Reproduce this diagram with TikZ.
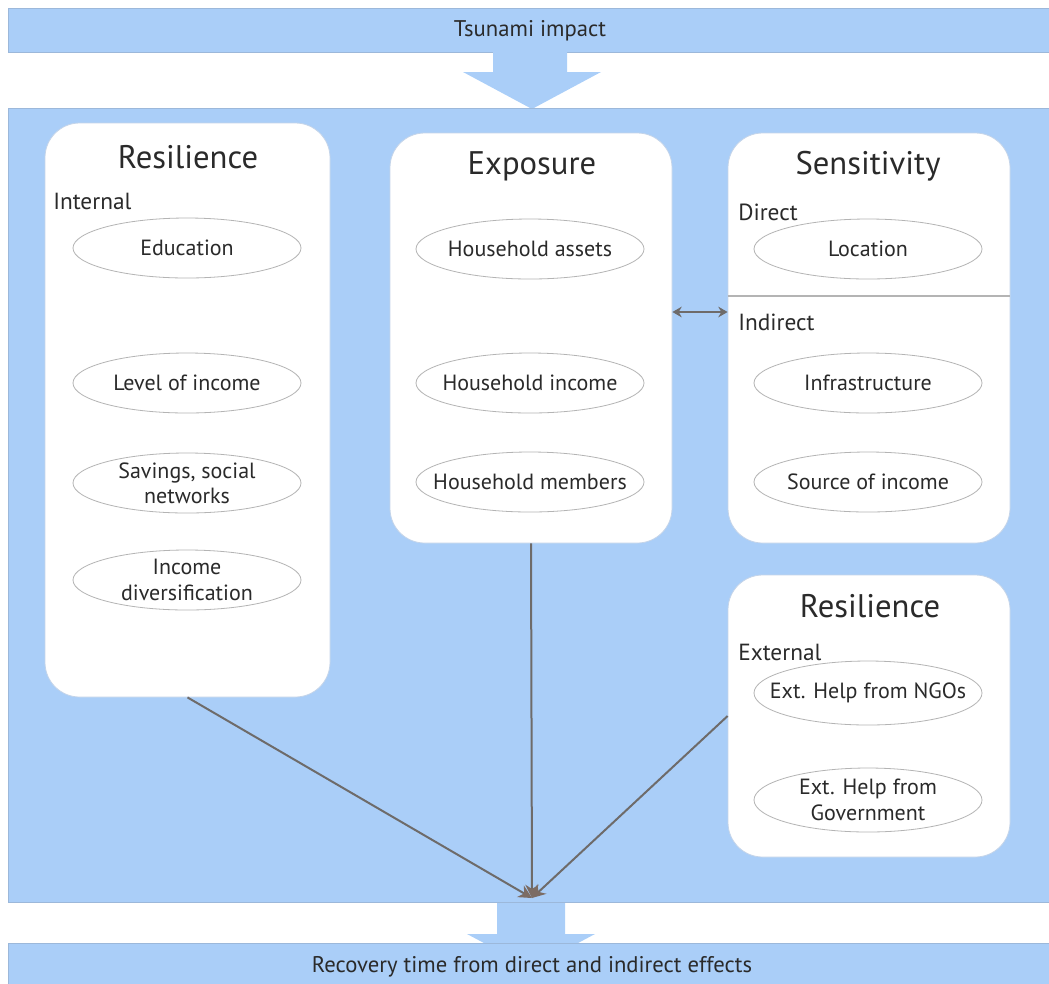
\documentclass[tikz,border=0pt]{standalone}
\usepackage{fontspec}
\setmainfont{PT Sans}
\usetikzlibrary{shapes.geometric,arrows.meta,calc}
\definecolor{bandblue}{HTML}{AACEF8}
\definecolor{bandedge}{HTML}{9CB8DA}
\definecolor{txt}{HTML}{2A2A2A}
\definecolor{ellgray}{HTML}{B4B4B4}
\definecolor{conn}{HTML}{6E6B6A}
\definecolor{tipcol}{HTML}{7C6C64}
\tikzset{
  px/.style={x=0.75pt,y=-0.75pt},
  card/.style={draw=bandedge!60!white,line width=0.6pt,fill=white,rounded corners=26pt,inner sep=0pt},
  ovtext/.style={inner sep=0pt,align=center,text=txt,font=\fontsize{16.5}{19}\selectfont},
  oval/.style={ellipse,draw=ellgray,line width=0.6pt,fill=white,minimum width=171pt,minimum height=45pt,inner sep=0pt,label={[ovtext]center:#1}},
  title/.style={text=txt,font=\fontsize{24.5}{26}\selectfont,inner sep=0pt},
  sub/.style={text=txt,font=\fontsize{17.5}{18}\selectfont,inner sep=0pt,anchor=west},
  band/.style={fill=bandblue,draw=bandedge,line width=0.6pt},
  bandtext/.style={text=txt,font=\fontsize{17}{19}\selectfont,inner sep=0pt},
  link/.style={draw=conn,line width=1.5pt},
  linkarrow/.style={link,-{Stealth[length=10pt,width=10pt,color=tipcol]}},
}
\begin{document}
\begin{tikzpicture}[px]
\useasboundingbox (0,0) rectangle (1049,983);
% top band
\path[band] (8,8) rectangle (1052,52);
\node[bandtext] (tsunami) at (530,31) {Tsunami impact};
% top arrow
\fill[bandblue] (493,52) -- (567,52) -- (567,72) -- (601,72) -- (532,109) -- (463,72) -- (493,72) -- cycle;
% bottom arrow (under bottom band)
\fill[bandblue] (497,902) -- (565,902) -- (565,934) -- (595,934) -- (531,968) -- (467,934) -- (497,934) -- cycle;
% main panel
\path[band] (8,108) rectangle (1052,902);
% bottom band
\path[band] (8,943) rectangle (1052,990);
\node[bandtext] (recovery) at (532,967) {Recovery time from direct and indirect effects};

% cards
\node[card,minimum width=213.75pt,minimum height=430.5pt] (resint) at (187.5,410) {};
\node[card,minimum width=211.5pt,minimum height=307.5pt] (expo) at (531,338) {};
\node[card,minimum width=211.5pt,minimum height=307.5pt] (sens) at (869,338) {};
\node[card,minimum width=211.5pt,minimum height=211.5pt] (resext) at (869,716) {};

% Resilience internal
\node[title] (t1) at (188,157) {Resilience};
\node[sub] (internal) at (53,201) {Internal};
\node[oval={Education}] (edu) at (187,248) {};
\node[oval={Level of income}] (lvl) at (187,383) {};
\node[oval={Savings, social\\networks}] (sav) at (187,483) {};
\node[oval={Income\\diversification}] (div) at (187,580) {};

% Exposure
\node[title] (t2) at (532,166) {Exposure};
\node[oval={Household assets}] (assets) at (530,249) {};
\node[oval={Household income}] (hinc) at (530,383) {};
\node[oval={Household members}] (hmem) at (530,482) {};

% Sensitivity
\node[title] (t3) at (868,166) {Sensitivity};
\node[sub] (direct) at (738,212) {Direct};
\node[oval={Location}] (loc) at (868,249) {};
\draw[draw=ellgray,line width=0.8pt] (sens.west |- 0,296) coordinate (dl) -- (sens.east |- 0,296) coordinate (dr);
\node[sub] (indirect) at (738,322) {Indirect};
\node[oval={Infrastructure}] (infra) at (868,383) {};
\node[oval={Source of income}] (src) at (868,482) {};

% Resilience external
\node[title] (t4) at (870,606) {Resilience};
\node[sub] (external) at (738,652) {External};
\node[oval={Ext. Help from NGOs},minimum height=48pt] (ngo) at (868,693) {};
\node[oval={Ext. Help from\\Government},minimum height=48pt] (gov) at (868,800) {};

% connectors
\coordinate (conv) at (532,898);
\draw[linkarrow] (resint.south) -- (conv);
\draw[linkarrow] (expo.south) -- (conv);
\draw[linkarrow] (resext.west) -- (conv);
\draw[link,{Stealth[length=7pt,width=8pt]}-{Stealth[length=7pt,width=8pt]}] ([yshift=19.5pt]expo.east) -- ([yshift=19.5pt]sens.west);
\end{tikzpicture}
\end{document}
